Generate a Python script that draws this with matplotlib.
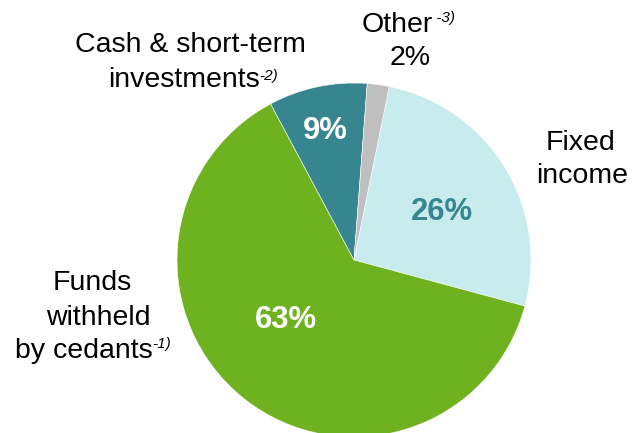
import matplotlib
matplotlib.use("Agg")
import matplotlib.pyplot as plt

# datos del gráfico
categorias = ["Fixed income", "Funds withheld by cedants", "Cash & short-term investments", "Other"]
valores = [26, 63, 9, 2]
colores = ["#c8ebee", "#6fb220", "#37858f", "#bfbfbf"]
etiquetas_pct = ["26%", "63%", "9%", "2%"]

W, H = 632, 433
plt.rcParams['font.family'] = ['Liberation Sans', 'DejaVu Sans']

fig = plt.figure(figsize=(W / 100, H / 100), dpi=100)
ax = fig.add_axes([0, 0, 1, 1])

# pie en coordenadas de píxel (y hacia arriba)
cx, cy, r = 354, H - 260, 177
ax.pie(valores, colors=colores, startangle=78.5, counterclock=False,
       center=(cx, cy), radius=r, frame=True,
       wedgeprops=dict(edgecolor='white', linewidth=0.4))
ax.set_xlim(0, W)
ax.set_ylim(0, H)
ax.set_aspect('auto')
ax.axis('off')

renderer = fig.canvas.get_renderer()

def texto(x, y, s, sup=None, ha='center', dy=6, size=20.5, **kw):
    t = ax.text(x, H - y, s, ha=ha, va='baseline', fontsize=size, **kw)
    if sup:
        bb = t.get_window_extent(renderer)
        ax.text(bb.x1 - 1, H - y + dy, sup, ha='left', va='baseline',
                fontsize=11, style='italic')
    return t

# etiquetas exteriores
texto(75, 52, "Cash & short-term", ha='left')
texto(108, 87, "investments", sup="-2)", ha='left', dy=7)
texto(362, 32, "Other", sup=" -3)", ha='left', dy=10)
texto(410, 65, "2%")
texto(580, 150, "Fixed")
texto(582, 183, "income")
texto(92.5, 290, "Funds")
texto(98, 325, "withheld")
texto(15, 358, "by cedants", sup="-1)", ha='left', dy=10)

# porcentajes dentro de las porciones
texto(442, 220, etiquetas_pct[0], size=22.3, fontweight='bold', color="#37858f")
texto(286, 328, etiquetas_pct[1], size=22.3, fontweight='bold', color="white")
texto(325, 139, etiquetas_pct[2], size=22.3, fontweight='bold', color="white")

fig.savefig("out.png", dpi=100)
